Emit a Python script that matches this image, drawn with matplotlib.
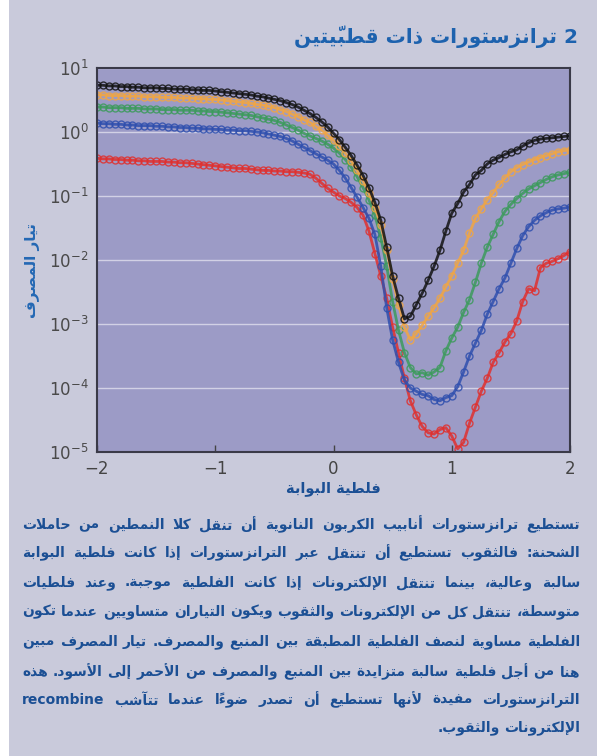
import re
import numpy as np
import matplotlib
matplotlib.use("Agg")
import matplotlib.pyplot as plt
from matplotlib.patches import Rectangle

# gate voltage (V) and log10 of drain current for each curve
gate_v = [-2.00, -1.95, -1.90, -1.85, -1.80, -1.75, -1.70, -1.65, -1.60, -1.55,
          -1.50, -1.45, -1.40, -1.35, -1.30, -1.25, -1.20, -1.15, -1.10, -1.05,
          -1.00, -0.95, -0.90, -0.85, -0.80, -0.75, -0.70, -0.65, -0.60, -0.55,
          -0.50, -0.45, -0.40, -0.35, -0.30, -0.25, -0.20, -0.15, -0.10, -0.05,
          0.00, 0.05, 0.10, 0.15, 0.20, 0.25, 0.30, 0.35, 0.40, 0.45,
          0.50, 0.55, 0.60, 0.65, 0.70, 0.75, 0.80, 0.85, 0.90, 0.95,
          1.00, 1.05, 1.10, 1.15, 1.20, 1.25, 1.30, 1.35, 1.40, 1.45,
          1.50, 1.55, 1.60, 1.65, 1.70, 1.75, 1.80, 1.85, 1.90, 1.95,
          2.00]

red_log = [-0.41, -0.42, -0.42, -0.43, -0.43, -0.44, -0.44, -0.45, -0.45, -0.46,
           -0.46, -0.46, -0.47, -0.47, -0.48, -0.48, -0.49, -0.50, -0.51, -0.52,
           -0.53, -0.54, -0.55, -0.56, -0.57, -0.57, -0.58, -0.59, -0.60, -0.60,
           -0.61, -0.61, -0.62, -0.62, -0.63, -0.64, -0.66, -0.72, -0.80, -0.88,
           -0.94, -1.00, -1.04, -1.10, -1.18, -1.30, -1.55, -1.90, -2.25, -2.60,
           -3.05, -3.45, -3.85, -4.20, -4.42, -4.60, -4.70, -4.72, -4.65, -4.62,
           -4.75, -4.95, -4.85, -4.55, -4.30, -4.05, -3.85, -3.60, -3.45, -3.28,
           -3.15, -2.95, -2.65, -2.45, -2.48, -2.12, -2.05, -2.02, -1.98, -1.93,
           -1.87]

blue_log = [0.14, 0.13, 0.13, 0.12, 0.12, 0.11, 0.11, 0.10, 0.10, 0.10,
            0.09, 0.09, 0.08, 0.08, 0.07, 0.07, 0.06, 0.06, 0.05, 0.05,
            0.04, 0.04, 0.03, 0.03, 0.02, 0.02, 0.01, 0.00, -0.01, -0.03,
            -0.05, -0.07, -0.10, -0.14, -0.19, -0.24, -0.29, -0.34, -0.39, -0.44,
            -0.50, -0.60, -0.72, -0.87, -1.02, -1.18, -1.35, -1.60, -2.10, -2.75,
            -3.25, -3.60, -3.88, -4.00, -4.05, -4.10, -4.12, -4.18, -4.20, -4.15,
            -4.12, -3.98, -3.75, -3.50, -3.30, -3.10, -2.85, -2.65, -2.45, -2.28,
            -2.05, -1.82, -1.62, -1.48, -1.38, -1.31, -1.26, -1.22, -1.20, -1.19,
            -1.17]

green_log = [0.39, 0.39, 0.38, 0.38, 0.38, 0.37, 0.37, 0.37, 0.36, 0.36,
             0.36, 0.35, 0.35, 0.35, 0.34, 0.34, 0.34, 0.33, 0.33, 0.32,
             0.32, 0.31, 0.30, 0.29, 0.28, 0.27, 0.26, 0.24, 0.22, 0.20,
             0.18, 0.15, 0.11, 0.07, 0.03, -0.02, -0.06, -0.10, -0.14, -0.19,
             -0.25, -0.33, -0.43, -0.55, -0.70, -0.87, -1.06, -1.30, -1.65, -2.10,
             -2.65, -3.10, -3.45, -3.68, -3.78, -3.76, -3.80, -3.75, -3.68, -3.42,
             -3.22, -3.05, -2.82, -2.62, -2.35, -2.05, -1.80, -1.60, -1.40, -1.24,
             -1.13, -1.04, -0.96, -0.89, -0.84, -0.79, -0.74, -0.70, -0.67, -0.65,
             -0.63]

orange_log = [0.58, 0.58, 0.57, 0.57, 0.57, 0.56, 0.56, 0.56, 0.55, 0.55,
              0.55, 0.54, 0.54, 0.54, 0.53, 0.53, 0.53, 0.52, 0.52, 0.51,
              0.51, 0.50, 0.49, 0.48, 0.47, 0.46, 0.45, 0.43, 0.42, 0.40,
              0.38, 0.35, 0.32, 0.28, 0.24, 0.19, 0.15, 0.09, 0.03, -0.05,
              -0.13, -0.22, -0.33, -0.45, -0.60, -0.76, -0.95, -1.18, -1.45, -1.85,
              -2.30, -2.70, -3.05, -3.25, -3.15, -3.02, -2.88, -2.75, -2.60, -2.42,
              -2.25, -2.05, -1.85, -1.58, -1.35, -1.20, -1.06, -0.95, -0.82, -0.72,
              -0.62, -0.56, -0.51, -0.47, -0.43, -0.40, -0.37, -0.34, -0.31, -0.29,
              -0.28]

black_log = [0.73, 0.73, 0.72, 0.72, 0.71, 0.71, 0.70, 0.70, 0.69, 0.69,
             0.69, 0.68, 0.68, 0.67, 0.67, 0.67, 0.66, 0.66, 0.65, 0.65,
             0.64, 0.63, 0.62, 0.61, 0.60, 0.59, 0.58, 0.56, 0.55, 0.53,
             0.51, 0.49, 0.46, 0.43, 0.39, 0.34, 0.29, 0.23, 0.16, 0.08,
             -0.02, -0.12, -0.24, -0.37, -0.52, -0.68, -0.87, -1.10, -1.38, -1.80,
             -2.25, -2.60, -2.92, -2.88, -2.70, -2.52, -2.32, -2.10, -1.85, -1.55,
             -1.27, -1.12, -0.94, -0.82, -0.67, -0.60, -0.50, -0.44, -0.40, -0.35,
             -0.31, -0.28, -0.22, -0.17, -0.13, -0.11, -0.10, -0.09, -0.08, -0.07,
             -0.06]

series = [red_log, blue_log, green_log, orange_log, black_log]
colors = ["#e0302e", "#2f4fae", "#3c9a5c", "#f2a642", "#141414"]

title = "2 ترانزستورات ذات قطبيّتين"
ylabel = "تيار المصرف"
xlabel = "فلطية البوابة"
xticks = [-2, -1, 0, 1, 2]
body = [
    "تستطيع ترانزستورات أنابيب الكربون النانوية أن تنقل كلا النمطين من حاملات",
    "الشحنة: فالثقوب تستطيع أن تنتقل عبر الترانزستورات إذا كانت فلطية البوابة",
    "سالبة وعالية، بينما تنتقل الإلكترونات إذا كانت الفلطية موجبة. وعند فلطيات",
    "متوسطة، تنتقل كل من الإلكترونات والثقوب ويكون التياران متساويين عندما تكون",
    "الفلطية مساوية لنصف الفلطية المطبقة بين المنبع والمصرف. تيار المصرف مبين",
    "هنا من أجل فلطية سالبة متزايدة بين المنبع والمصرف من الأحمر إلى الأسود. هذه",
    "الترانزستورات مفيدة لأنها تستطيع أن تصدر ضوءاً عندما تتآشب recombine",
    "الإلكترونات والثقوب.",
]

# --- minimal arabic shaping (matplotlib has no bidi / joining support) ---
HARAKAT = set(chr(c) for c in range(0x064B, 0x0653))
DUAL = {"ئ": 0xFE89, "ب": 0xFE8F, "ت": 0xFE95, "ث": 0xFE99, "ج": 0xFE9D,
        "ح": 0xFEA1, "خ": 0xFEA5, "س": 0xFEB1, "ش": 0xFEB5, "ص": 0xFEB9,
        "ض": 0xFEBD, "ط": 0xFEC1, "ظ": 0xFEC5, "ع": 0xFEC9, "غ": 0xFECD,
        "ف": 0xFED1, "ق": 0xFED5, "ك": 0xFED9, "ل": 0xFEDD, "م": 0xFEE1,
        "ن": 0xFEE5, "ه": 0xFEE9, "ي": 0xFEF1}
RIGHT = {"آ": 0xFE81, "أ": 0xFE83, "ؤ": 0xFE85, "إ": 0xFE87, "ا": 0xFE8D,
         "ة": 0xFE93, "د": 0xFEA9, "ذ": 0xFEAB, "ر": 0xFEAD, "ز": 0xFEAF,
         "و": 0xFEED, "ى": 0xFEEF}
LAMALEF = {"آ": 0xFEF5, "أ": 0xFEF7, "إ": 0xFEF9, "ا": 0xFEFB}


def shape(txt):
    clusters = []
    for ch in txt:
        if ch in HARAKAT and clusters:
            clusters[-1][1] += ch
        else:
            clusters.append([ch, ""])
    merged = []
    i = 0
    while i < len(clusters):
        ch, marks = clusters[i]
        if ch == "ل" and i + 1 < len(clusters) and clusters[i + 1][0] in LAMALEF:
            merged.append(["LA" + clusters[i + 1][0], marks + clusters[i + 1][1]])
            i += 2
        else:
            merged.append([ch, marks])
            i += 1
    out = []
    for i, (ch, marks) in enumerate(merged):
        prev = merged[i - 1][0] if i > 0 else ""
        nxt = merged[i + 1][0] if i + 1 < len(merged) else ""
        right_ok = ch in DUAL or ch in RIGHT or ch.startswith("LA")
        jp = prev in DUAL and right_ok
        jn = ch in DUAL and (nxt in DUAL or nxt in RIGHT or nxt.startswith("LA"))
        if ch.startswith("LA"):
            g = chr(LAMALEF[ch[2]] + (1 if jp else 0))
        elif ch in DUAL:
            g = chr(DUAL[ch] + (3 if jp and jn else 1 if jp else 2 if jn else 0))
        elif ch in RIGHT:
            g = chr(RIGHT[ch] + (1 if jp else 0))
        else:
            g = ch
        out.append(g + marks)
    return "".join(reversed(out))


def visual(line):
    parts = re.split(r"([A-Za-z0-9]+)", line)
    res = []
    for p in reversed(parts):
        if re.fullmatch(r"[A-Za-z0-9]+", p):
            res.append(p)
        else:
            res.append(shape(p))
    return "".join(res)


plt.rcParams["font.family"] = ["DejaVu Sans"]
plt.rcParams["mathtext.default"] = "regular"

W, H = 597, 756
fig = plt.figure(figsize=(W / 100, H / 100), dpi=100)
fig.patch.set_facecolor("white")
fig.patches.append(Rectangle((9 / W, 0), 1, 1, transform=fig.transFigure,
                             facecolor="#c9cadb", edgecolor="none", zorder=-10))

ax = fig.add_axes([97 / W, 1 - 452 / H, (570 - 97) / W, (452 - 68) / H])
ax.set_facecolor("#9c9bc6")

for vals, c in zip(series, colors):
    ax.plot(gate_v, 10 ** np.array(vals), color=c, lw=2, marker="o", ms=5,
            mfc="none", mec=c, mew=1, alpha=0.85)

ax.set_yscale("log")
ax.set_ylim(1e-5, 1e1)
ax.set_xlim(-2, 2)
ax.set_xticks(xticks)
ax.minorticks_off()
ax.set_yticks([1e-5, 1e-4, 1e-3, 1e-2, 1e-1, 1e0, 1e1])
ax.grid(axis="y", color="white", lw=1, alpha=0.55)
ax.set_axisbelow(True)
ax.tick_params(axis="x", direction="in", length=5, width=1, colors="#444444",
               labelsize=12, pad=6)
ax.tick_params(axis="y", length=0, labelcolor="#4a4a4a", labelsize=12, pad=6)
for s in ax.spines.values():
    s.set_color("#3a3a48")
    s.set_linewidth(1.5)

ax.set_xlabel(visual(xlabel), fontsize=10.5, fontweight="bold", color="#1b4f94",
              labelpad=2)
fig.text(33 / W, 1 - 270 / H, visual(ylabel), rotation=90, ha="center", va="center",
         fontsize=11, fontweight="bold", color="#2468b4")

fig.text(578 / W, 1 - 37 / H, visual(title), ha="right", va="center",
         fontsize=14.5, fontweight="bold", color="#1d62ae")

# justified paragraph: place each word, spread the gaps to fill the line
renderer = fig.canvas.get_renderer()
line_y = [525, 553, 583, 612, 642, 672, 700, 728]
left_px, right_px = 22, 580
for k, (y, line) in enumerate(zip(line_y, body)):
    items = []
    for w in line.split(" "):
        t = fig.text(0, 1 - y / H, visual(w), ha="right", va="center",
                     fontsize=10, fontweight="bold", color="#1b4f94")
        items.append((t, t.get_window_extent(renderer).width))
    total = sum(wd for _, wd in items)
    if k < len(body) - 1:
        gap = (right_px - left_px - total) / (len(items) - 1)
    else:
        gap = 4
    x = right_px
    for t, wd in items:
        t.set_x(x / W)
        x -= wd + gap

fig.savefig("out.png", dpi=100, facecolor=fig.get_facecolor())
